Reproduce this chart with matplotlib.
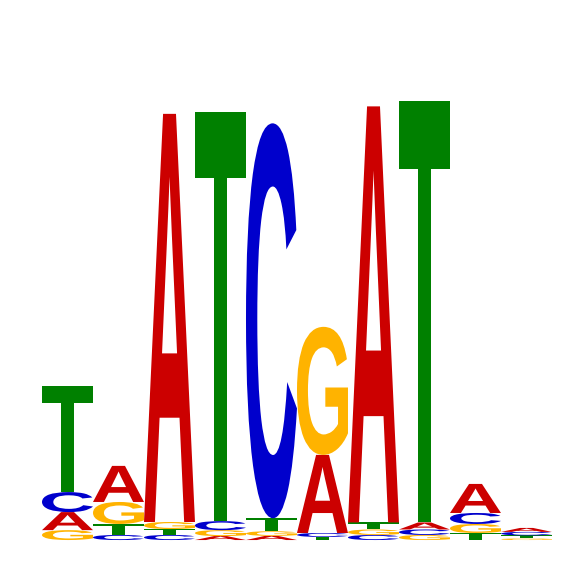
import numpy as np
import matplotlib
matplotlib.use("Agg")
from matplotlib import pyplot as plt
from matplotlib.textpath import TextPath
from matplotlib.font_manager import FontProperties
from matplotlib.patches import PathPatch
from matplotlib.transforms import Affine2D

# information content (bits) per position
positions = np.arange(1, 11)
a_bits = [0.082, 0.164, 1.855, 0.018, 0.019, 0.355, 1.891, 0.032, 0.132, 0.018]
c_bits = [0.091, 0.023, 0.023, 0.041, 1.795, 0.018, 0.023, 0.025, 0.050, 0.016]
g_bits = [0.045, 0.100, 0.032, 0.027, 0.021, 0.582, 0.025, 0.023, 0.041, 0.007]
t_bits = [0.482, 0.050, 0.027, 1.859, 0.059, 0.014, 0.032, 1.914, 0.032, 0.014]

colors = {'A': '#CC0000', 'C': '#0000CC', 'G': '#FFB300', 'T': '#008000'}
fp = FontProperties(family='Liberation Sans', weight='bold')


def draw_letter(ax, letter, x, y, w, h):
    tp = TextPath((0, 0), letter, size=1, prop=fp)
    ext = tp.get_extents()
    tr = Affine2D().translate(-ext.x0, -ext.y0) \
        .scale(w / ext.width, h / ext.height).translate(x, y)
    ax.add_patch(PathPatch(tr.transform_path(tp), fc=colors[letter], ec='none'))


fig = plt.figure(figsize=(5.66, 5.66), dpi=100)
ax = fig.add_axes([0, 0, 1, 1])

for i, pos in enumerate(positions):
    col = [('A', a_bits[i]), ('C', c_bits[i]), ('G', g_bits[i]), ('T', t_bits[i])]
    col.sort(key=lambda p: p[1])
    y = 0
    for letter, h in col:
        draw_letter(ax, letter, pos - 0.5, y, 1.0, h)
        y += h

ax.set_xlim(-0.3235, 10.775)
ax.set_ylim(-0.118, 2.4545)
ax.axis('off')
fig.savefig('out.png', dpi=100)
